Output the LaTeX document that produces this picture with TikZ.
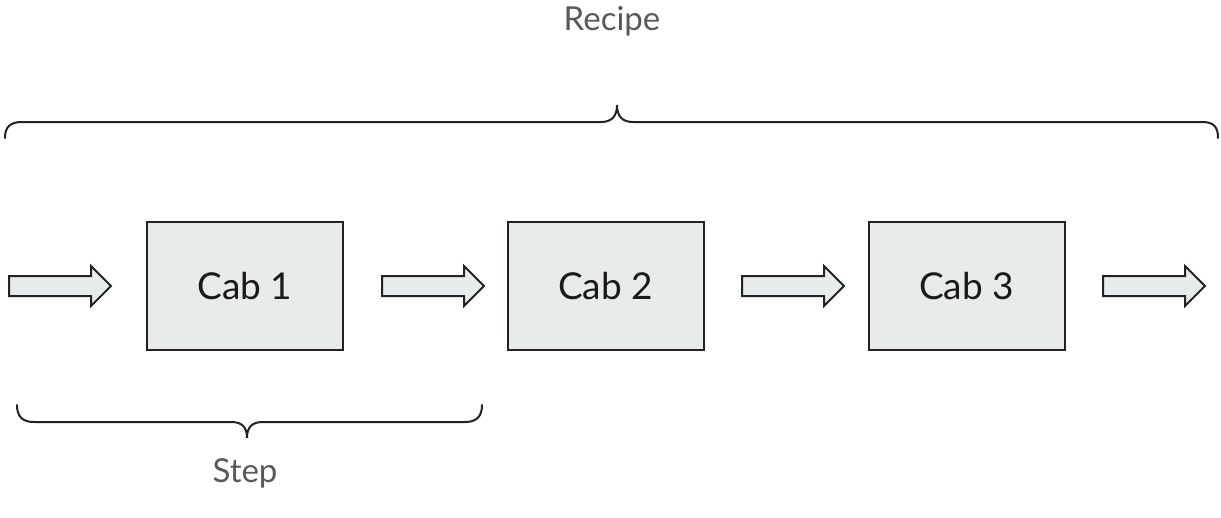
\documentclass[tikz,border=0pt]{standalone}
\usepackage{fontspec}
\setmainfont{Lato}
\usetikzlibrary{shapes.arrows}
\definecolor{boxfill}{HTML}{E8EBEC}
\definecolor{edge}{HTML}{222222}
\definecolor{labelgray}{HTML}{595959}
\begin{document}
\begin{tikzpicture}[x=1pt,y=-1pt,
  cab/.style={draw=edge,line width=2pt,fill=boxfill,minimum width=196pt,minimum height=128pt,inner sep=0pt,font=\fontsize{37}{40}\selectfont,text=black!90},
  blockarrow/.style={single arrow,draw=edge,line width=2pt,fill=boxfill,minimum height=102pt,inner xsep=0pt,inner ysep=9pt,text height=0pt,text depth=0pt,single arrow head extend=10pt,single arrow tip angle=90,anchor=tail},
  brace/.style={draw=edge,line width=2pt,line cap=round},
  lbl/.style={text=labelgray,font=\fontsize{33}{36}\selectfont,anchor=base,inner sep=0pt}]
\useasboundingbox (0,0) rectangle (1221,517);
\node[cab] (c1) at (245,286) {Cab 1};
\node[cab] (c2) at (605.5,286) {Cab 2};
\node[cab] (c3) at (966.5,286) {Cab 3};
\node[blockarrow] (a1) at (8,286) {};
\node[blockarrow] (a2) at (381,286) {};
\node[blockarrow] (a3) at (741,286) {};
\node[blockarrow] (a4) at (1102,286) {};
\draw[brace] (5,138) .. controls (5,127) and (10,122) .. (22,122) -- (601,122) .. controls (612,122) and (617,116) .. (617,105) .. controls (617,116) and (622,122) .. (633,122) -- (1202,122) .. controls (1214,122) and (1218,127) .. (1218,138);
\draw[brace] (17,405) .. controls (17,416) and (22,422) .. (34,422) -- (231,422) .. controls (242,422) and (247,427) .. (247,438) .. controls (247,427) and (252,422) .. (263,422) -- (465,422) .. controls (477,422) and (482,416) .. (482,405);
\node[lbl] (recipe) at (612,30) {Recipe};
\node[lbl] (step) at (245,482) {Step};
\end{tikzpicture}
\end{document}
